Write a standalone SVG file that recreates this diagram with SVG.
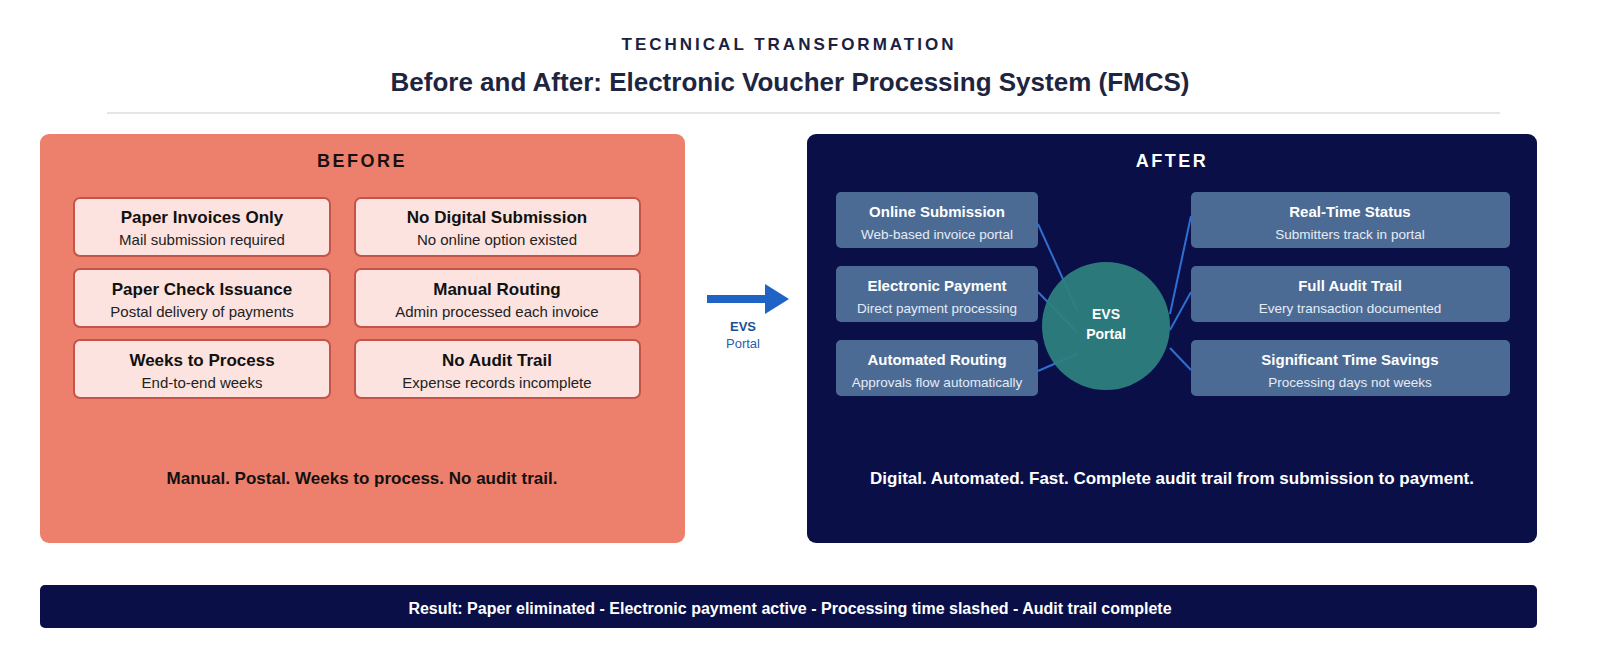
<svg xmlns="http://www.w3.org/2000/svg" width="1607" height="656" viewBox="0 0 1607 656">
<style>
text{font-family:"Liberation Sans",Arial,sans-serif;text-anchor:middle}
.b{fill:#fce3df;stroke:#c4544a;stroke-width:2}
.bt{font-weight:bold;font-size:17px;fill:#111}
.bs{font-size:15px;fill:#222}
.a{fill:#4b6b95}
.at{font-weight:bold;font-size:15px;fill:#fff}
.as{font-size:13.5px;fill:#e6ecf5}
.c{stroke:#2f6fd0;stroke-width:2;fill:none}
</style>
<rect width="1607" height="656" fill="#fff"/>
<text x="789" y="50" font-size="17" font-weight="bold" letter-spacing="3" fill="#1b2240">TECHNICAL TRANSFORMATION</text>
<text x="790" y="91" font-size="26" font-weight="bold" fill="#1e2540">Before and After: Electronic Voucher Processing System (FMCS)</text>
<line x1="107" y1="113" x2="1500" y2="113" stroke="#ddd" stroke-width="1.5"/>
<g id="before">
<rect x="40" y="134" width="645" height="409" rx="9" fill="#ed806c"/>
<text x="362" y="167" font-size="18" font-weight="bold" letter-spacing="2.5" fill="#1a1010">BEFORE</text>
<text x="362" y="484" font-size="17" font-weight="bold" fill="#111">Manual. Postal. Weeks to process. No audit trail.</text>
</g>
<g id="b1"><rect class="b" x="74" y="198" width="256" height="58" rx="6"/><text class="bt" x="202" y="223">Paper Invoices Only</text><text class="bs" x="202" y="245">Mail submission required</text></g>
<g id="b2"><rect class="b" x="355" y="198" width="285" height="58" rx="6"/><text class="bt" x="497" y="223">No Digital Submission</text><text class="bs" x="497" y="245">No online option existed</text></g>
<g id="b3"><rect class="b" x="74" y="269" width="256" height="58" rx="6"/><text class="bt" x="202" y="295">Paper Check Issuance</text><text class="bs" x="202" y="317">Postal delivery of payments</text></g>
<g id="b4"><rect class="b" x="355" y="269" width="285" height="58" rx="6"/><text class="bt" x="497" y="295">Manual Routing</text><text class="bs" x="497" y="317">Admin processed each invoice</text></g>
<g id="b5"><rect class="b" x="74" y="340" width="256" height="58" rx="6"/><text class="bt" x="202" y="366">Weeks to Process</text><text class="bs" x="202" y="388">End-to-end weeks</text></g>
<g id="b6"><rect class="b" x="355" y="340" width="285" height="58" rx="6"/><text class="bt" x="497" y="366">No Audit Trail</text><text class="bs" x="497" y="388">Expense records incomplete</text></g>
<g id="transition">
<path d="M707 295 H765 V284 L789 299 L765 314 V303 H707 Z" fill="#1f63c4"/>
<text x="743" y="331" font-size="13" font-weight="bold" fill="#1f4f8f">EVS</text>
<text x="743" y="348" font-size="13" fill="#2a60a8">Portal</text>
</g>
<g id="after">
<rect x="807" y="134" width="730" height="409" rx="9" fill="#0a0f48"/>
<text x="1172" y="167" font-size="18" font-weight="bold" letter-spacing="2.5" fill="#fff">AFTER</text>
<text x="1172" y="484" font-size="17" font-weight="bold" fill="#fff">Digital. Automated. Fast. Complete audit trail from submission to payment.</text>
</g>
<g id="connectors">
<line class="c" x1="1038" y1="224" x2="1077" y2="310"/>
<line class="c" x1="1038" y1="292" x2="1077" y2="332"/>
<line class="c" x1="1038" y1="371" x2="1077" y2="354"/>
<line class="c" x1="1191" y1="216" x2="1170" y2="314"/>
<line class="c" x1="1191" y1="292" x2="1170" y2="330"/>
<line class="c" x1="1191" y1="370" x2="1170" y2="348"/>
</g>
<g id="portal"><circle cx="1106" cy="326" r="64" fill="#2e7f80" fill-opacity="0.95"/><text x="1106" y="319" font-size="14" font-weight="bold" fill="#fff">EVS</text><text x="1106" y="339" font-size="14" font-weight="bold" fill="#fff">Portal</text></g>
<g id="a1"><rect class="a" x="836" y="192" width="202" height="56" rx="5"/><text class="at" x="937" y="217">Online Submission</text><text class="as" x="937" y="239">Web-based invoice portal</text></g>
<g id="a2"><rect class="a" x="836" y="266" width="202" height="56" rx="5"/><text class="at" x="937" y="291">Electronic Payment</text><text class="as" x="937" y="313">Direct payment processing</text></g>
<g id="a3"><rect class="a" x="836" y="340" width="202" height="56" rx="5"/><text class="at" x="937" y="365">Automated Routing</text><text class="as" x="937" y="387">Approvals flow automatically</text></g>
<g id="a4"><rect class="a" x="1191" y="192" width="319" height="56" rx="5"/><text class="at" x="1350" y="217">Real-Time Status</text><text class="as" x="1350" y="239">Submitters track in portal</text></g>
<g id="a5"><rect class="a" x="1191" y="266" width="319" height="56" rx="5"/><text class="at" x="1350" y="291">Full Audit Trail</text><text class="as" x="1350" y="313">Every transaction documented</text></g>
<g id="a6"><rect class="a" x="1191" y="340" width="319" height="56" rx="5"/><text class="at" x="1350" y="365">Significant Time Savings</text><text class="as" x="1350" y="387">Processing days not weeks</text></g>
<g id="result"><rect x="40" y="585" width="1497" height="43" rx="5" fill="#0a0f48"/><text x="790" y="614" font-size="16" font-weight="bold" fill="#fff">Result: Paper eliminated - Electronic payment active - Processing time slashed - Audit trail complete</text></g>
</svg>
